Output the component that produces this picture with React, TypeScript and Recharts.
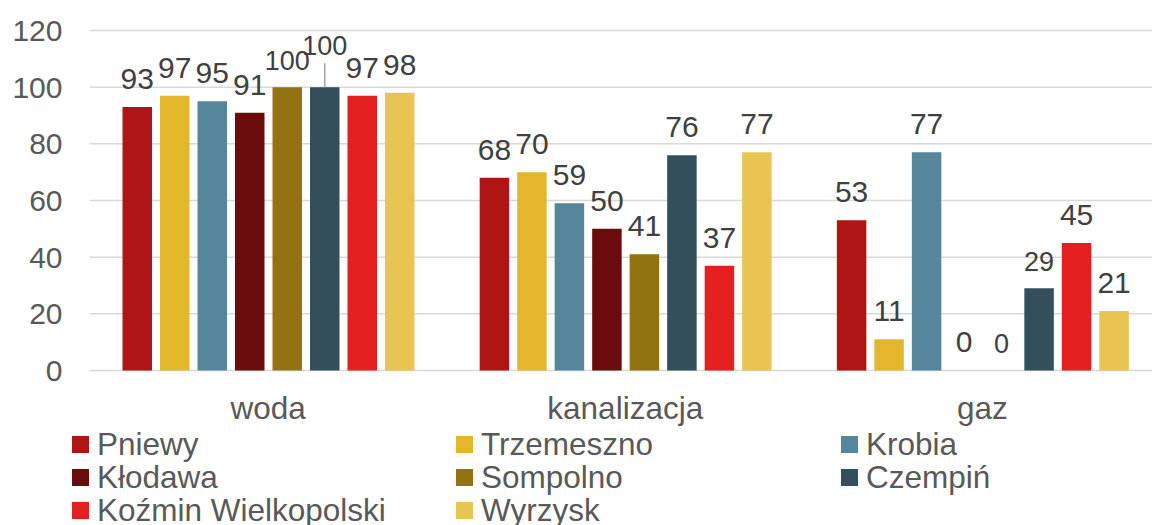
import React from 'react';
import { BarChart, Bar, XAxis, YAxis, CartesianGrid, LabelList } from 'recharts';

const categories = ['woda', 'kanalizacja', 'gaz'];

const seriesNames = [
  'Pniewy',
  'Trzemeszno',
  'Krobia',
  'Kłodawa',
  'Sompolno',
  'Czempiń',
  'Koźmin Wielkopolski',
  'Wyrzysk',
];

const pniewy = [93, 68, 53];
const trzemeszno = [97, 70, 11];
const krobia = [95, 59, 77];
const klodawa = [91, 50, 0];
const sompolno = [100, 41, 0];
const czempin = [100, 76, 29];
const kozmin = [97, 37, 45];
const wyrzysk = [98, 77, 21];

const yTicks = [0, 20, 40, 60, 80, 100, 120];

const seriesValues = [pniewy, trzemeszno, krobia, klodawa, sompolno, czempin, kozmin, wyrzysk];

const seriesColors = [
  '#b01515',
  '#e3b62b',
  '#55869b',
  '#6b0c0c',
  '#937212',
  '#324f5b',
  '#e41f1f',
  '#e8c452',
];

const FONT = '"Liberation Sans", Arial, sans-serif';

const data = categories.map((name, i) => {
  const row: Record<string, string | number> = { name };
  seriesNames.forEach((s, k) => {
    row[s] = seriesValues[k][i];
  });
  return row;
});

// Excel shrank a few crowded labels
const smallLabels = ['Sompolno-0', 'Czempiń-0', 'Czempiń-2', 'Sompolno-2'];

// the Czempiń label over "woda" sits higher with a leader line, as in Excel
const makeLabel = (series: string) => (props: any) => {
  const { x, y, width, value, index } = props;
  const cx = Number(x) + Number(width) / 2;
  const top = Number(y);
  const small = smallLabels.includes(`${series}-${index}`);
  const lifted = series === 'Czempiń' && index === 0;
  const baseline = lifted ? top - 32 : small ? top - 17 : top - 18;
  return (
    <g>
      {lifted && <line x1={cx} x2={cx} y1={top - 24} y2={top} stroke="#a6a6a6" strokeWidth={1.5} />}
      <text
        x={cx}
        y={baseline}
        textAnchor="middle"
        fill="#404040"
        fontSize={small ? 27 : 30}
        fontFamily={FONT}
      >
        {value}
      </text>
    </g>
  );
};

const legendCols = [72, 456, 841];
const legendRows = [427, 460, 493];

export default function App() {
  return (
    <div
      style={{
        position: 'absolute',
        top: 0,
        left: 0,
        width: 1152,
        height: 525,
        overflow: 'hidden',
        background: '#ffffff',
        fontFamily: FONT,
      }}
    >
      <BarChart
        width={1166}
        height={525}
        data={data}
        margin={{ top: 30.5, right: 5, bottom: 94.5, left: 0 }}
        barSize={29.5}
        barGap={8}
      >
        <CartesianGrid vertical={false} stroke="#d9d9d9" strokeWidth={1.5} />
        <XAxis
          dataKey="name"
          axisLine={false}
          tickLine={false}
          tickSize={6}
          tickMargin={20}
          height={60}
          tick={{ fill: '#595959', fontSize: 31.5, fontFamily: FONT }}
        />
        <YAxis
          domain={[0, 120]}
          ticks={yTicks}
          axisLine={false}
          tickLine={false}
          tickSize={6}
          tickMargin={21}
          width={89.5}
          tick={{ fill: '#595959', fontSize: 30, fontFamily: FONT }}
        />
        {seriesNames.map((s, k) => (
          <Bar
            key={s}
            dataKey={s}
            fill={seriesColors[k]}
            minPointSize={0.01}
            isAnimationActive={false}
          >
            <LabelList dataKey={s} content={makeLabel(s)} />
          </Bar>
        ))}
      </BarChart>
      {seriesNames.map((s, k) => (
        <div
          key={s}
          style={{
            position: 'absolute',
            left: legendCols[k % 3],
            top: legendRows[Math.floor(k / 3)],
            height: 34,
            display: 'flex',
            alignItems: 'center',
            fontSize: 31.5,
            lineHeight: '34px',
            color: '#595959',
            whiteSpace: 'nowrap',
          }}
        >
          <span
            style={{
              display: 'inline-block',
              width: 17,
              height: 17,
              background: seriesColors[k],
              marginRight: 8,
            }}
          />
          {s}
        </div>
      ))}
    </div>
  );
}
